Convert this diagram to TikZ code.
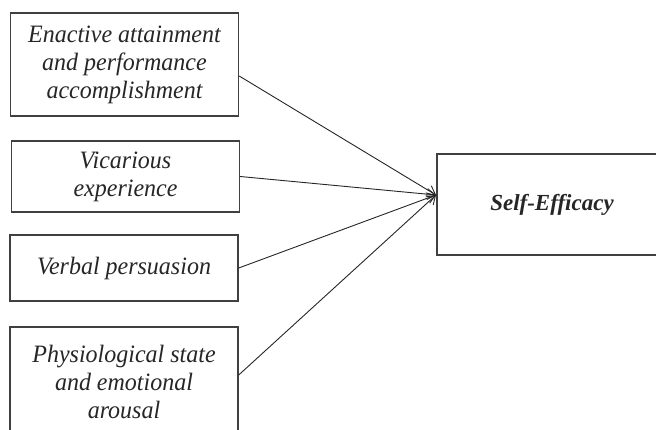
\documentclass[tikz,border=0pt]{standalone}
\usepackage{fontspec}
\setmainfont{Liberation Serif}
\newfontfamily\boxfont[FakeStretch=0.96]{Liberation Serif}
\usetikzlibrary{arrows.meta}
\begin{document}
\begin{tikzpicture}[x=1pt,y=-1pt,
  src/.style={draw=black!75, line width=1.4pt, minimum width=228pt, align=center,
    font=\boxfont\fontsize{25}{28}\selectfont\itshape, text=black!85, inner sep=0pt},
  tgt/.style={draw=black!75, line width=1.4pt, minimum width=230pt, minimum height=101pt,
    font=\fontsize{23}{27}\selectfont\bfseries\itshape, text=black!85, inner sep=0pt},
  arr/.style={-{Straight Barb[length=8pt,width=11pt]}, line width=0.9pt, draw=black!85}]
\useasboundingbox (0,0) rectangle (656,430);
\clip (0,0) rectangle (656,430);
\node[src, minimum height=103pt] (a) at (124.5,64.5) {Enactive attainment\\and performance\\accomplishment};
\node[src, minimum height=71pt] (b) at (125.5,176.5) {Vicarious\\experience};
\node[src, minimum height=66pt] (c) at (124,268) {Verbal persuasion};
\node[src, minimum height=110pt] (d) at (124,382) {Physiological state\\and emotional\\arousal};
\node[tgt] (se) at (552,204.5) {Self-Efficacy};
\coordinate (tip) at (436,195);
\draw[arr] ([yshift=-11.5pt]a.east) -- (tip);
\draw[arr] (b.east) -- (tip);
\draw[arr] (c.east) -- (tip);
\draw[arr] ([yshift=7pt]d.east) -- (tip);
\end{tikzpicture}
\end{document}
